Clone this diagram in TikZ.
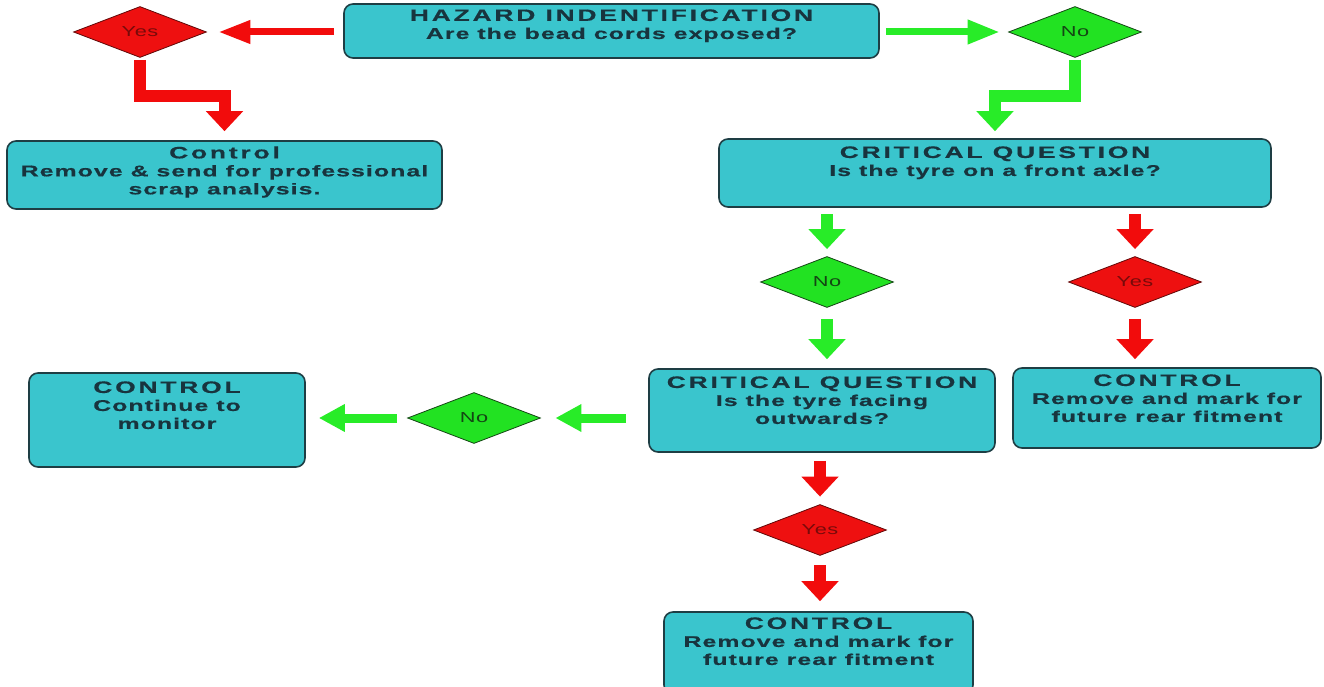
\documentclass[tikz,border=0pt]{standalone}
\usepackage{fontspec}
\setmainfont{Liberation Sans}
\newfontfamily\ttlfont{Liberation Sans}[FakeStretch=1.6,LetterSpace=17,FakeBold=0.6]
\newfontfamily\bdyfont{Liberation Sans}[FakeStretch=1.6,LetterSpace=7,FakeBold=0.6]
\newfontfamily\dmdfont{Liberation Sans}[FakeStretch=1.5,LetterSpace=4]
\usetikzlibrary{shapes.geometric,arrows.meta}
\definecolor{boxfill}{RGB}{58,197,205}
\definecolor{boxline}{RGB}{30,62,68}
\definecolor{textc}{RGB}{24,52,62}
\definecolor{redA}{RGB}{242,12,12}
\definecolor{greenA}{RGB}{40,236,40}
\definecolor{redD}{RGB}{238,16,16}
\definecolor{greenD}{RGB}{34,226,34}
\definecolor{redT}{RGB}{120,10,10}
\definecolor{greenT}{RGB}{20,70,20}
\newcommand{\mytitle}[1]{{\ttlfont\bfseries\fontsize{16.5}{18}\selectfont #1}}
\tikzset{
  box/.style={draw=boxline, line width=1.6pt, fill=boxfill, rounded corners=9pt, inner sep=0pt},
  txt/.style={align=center, text=textc, inner sep=0pt, anchor=north,
    font=\bdyfont\bfseries\fontsize{15.5}{18}\selectfont},
  dmd/.style={diamond, inner sep=0pt, minimum width=133pt, minimum height=51pt,
    line width=0.8pt, font=\dmdfont\fontsize{14.5}{16}\selectfont},
  dyes/.style={dmd, fill=redD, draw=redT!80!black, text=redT},
  dno/.style={dmd, fill=greenD, draw=greenT, text=greenT},
  hR/.style={draw=redA, line width=7pt, -{Triangle[width=22pt,length=32pt]}},
  hG/.style={draw=greenA, line width=7pt, -{Triangle[width=23pt,length=32pt]}},
  lG/.style={draw=greenA, line width=9pt, -{Triangle[width=26pt,length=26pt]}},
  vR/.style={draw=redA, line width=12pt, -{Triangle[width=36pt,length=20pt]}},
  vG/.style={draw=greenA, line width=12pt, -{Triangle[width=36pt,length=20pt]}},
}
\begin{document}
\begin{tikzpicture}[x=1pt,y=-1pt]
\useasboundingbox (0,0) rectangle (1324,687);
% boxes
\node[box, minimum width=535pt, minimum height=54pt] (haz) at (611.5,31) {};
\node[txt] (hazT) at ([yshift=-6pt]haz.north) {\mytitle{HAZARD INDENTIFICATION}\\Are the bead cords exposed?};
\node[box, minimum width=435pt, minimum height=68pt] (ctl1) at (224.5,175) {};
\node[txt] (ctl1T) at ([yshift=-6pt]ctl1.north) {\mytitle{Control}\\Remove \& send for professional\\scrap analysis.};
\node[box, minimum width=552pt, minimum height=68pt] (cq1) at (995,173) {};
\node[txt] (cq1T) at ([yshift=-8pt]cq1.north) {\mytitle{CRITICAL QUESTION}\\Is the tyre on a front axle?};
\node[box, minimum width=346pt, minimum height=83pt] (cq2) at (822,410.5) {};
\node[txt] (cq2T) at ([yshift=-8pt]cq2.north) {\mytitle{CRITICAL QUESTION}\\Is the tyre facing\\outwards?};
\node[box, minimum width=308pt, minimum height=80pt] (ctl2) at (1167,408) {};
\node[txt] (ctl2T) at ([yshift=-7pt]ctl2.north) {\mytitle{CONTROL}\\Remove and mark for\\future rear fitment};
\node[box, minimum width=276pt, minimum height=94pt] (ctl3) at (167,420) {};
\node[txt] (ctl3T) at ([yshift=-9pt]ctl3.north) {\mytitle{CONTROL}\\Continue to\\monitor};
\node[box, minimum width=309pt, minimum height=82pt] (ctl4) at (818.5,653) {};
\node[txt] (ctl4T) at ([yshift=-6pt]ctl4.north) {\mytitle{CONTROL}\\Remove and mark for\\future rear fitment};
% diamonds
\node[dyes] (yes1) at (140,32) {Yes};
\node[dno] (no1) at (1075,32) {No};
\node[dno] (no2) at (827,282) {No};
\node[dyes] (yes2) at (1135,282) {Yes};
\node[dno] (no3) at (474,418) {No};
\node[dyes] (yes3) at (820,530) {Yes};
% connectors
\draw[hR, shorten <=9pt, shorten >=11.5pt] (haz.west |- yes1.east) -- (yes1.east);
\draw[hG, shorten <=6pt, shorten >=8.5pt] (haz.east |- no1.west) -- (no1.west);
\draw[vR, shorten <=2pt, shorten >=9pt] (yes1.south) -- ++(0,38.5) -| (ctl1.north);
\draw[vG, shorten <=2pt, shorten >=7pt] (no1.south) -- ++(0,38.5) -| (cq1.north);
\draw[vG, shorten <=6pt, shorten >=7pt] (no2.north |- cq1.south) -- (no2.north);
\draw[vR, shorten <=6pt, shorten >=7pt] (yes2.north |- cq1.south) -- (yes2.north);
\draw[vG, shorten <=11pt, shorten >=9pt] (no2.south) -- (no2.south |- cq2.north);
\draw[vR, shorten <=11pt, shorten >=8pt] (yes2.south) -- (yes2.south |- ctl2.north);
\draw[lG, shorten <=22pt, shorten >=14.5pt] (no3.east -| cq2.west) -- (no3.east);
\draw[lG, shorten <=10.5pt, shorten >=13pt] (no3.west) -- (no3.west -| ctl3.east);
\draw[vR, shorten <=8pt, shorten >=7.5pt] (yes3.north |- cq2.south) -- (yes3.north);
\draw[vR, shorten <=9.5pt, shorten >=10pt] (yes3.south) -- (yes3.south |- ctl4.north);
\end{tikzpicture}
\end{document}
